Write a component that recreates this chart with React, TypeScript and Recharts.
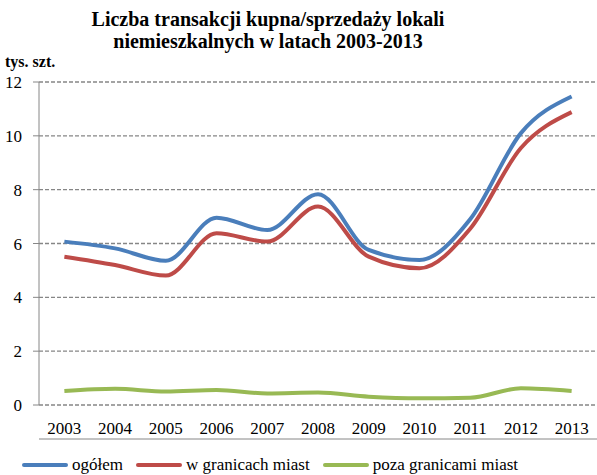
import { LineChart, Line, XAxis, YAxis, CartesianGrid, Legend } from "recharts";

const years = [2003, 2004, 2005, 2006, 2007, 2008, 2009, 2010, 2011, 2012, 2013];
const ogolem = [6.07, 5.82, 5.36, 6.96, 6.5, 7.83, 5.76, 5.39, 6.9, 10.1, 11.46];
const wGranicach = [5.51, 5.2, 4.81, 6.38, 6.07, 7.37, 5.51, 5.08, 6.55, 9.55, 10.88];
const pozaGranicami = [0.52, 0.6, 0.5, 0.56, 0.43, 0.46, 0.31, 0.25, 0.27, 0.62, 0.52];
const yTicks = [0, 2, 4, 6, 8, 10, 12];
const edgeTicks = [...years.map((y) => y - 0.5), 2013.5];

const series = [
  { key: "ogolem", name: "ogółem", color: "#4a7ebb" },
  { key: "wGranicach", name: "w granicach miast", color: "#be4b48" },
  { key: "pozaGranicami", name: "poza granicami miast", color: "#98b954" },
];

const data = years.map((year, i) => ({
  year,
  ogolem: ogolem[i],
  wGranicach: wGranicach[i],
  pozaGranicami: pozaGranicami[i],
}));

const font = '"Times New Roman", "Liberation Serif", Tinos, serif';
const axisGray = "#868686";

const LegendContent = () => (
  <div style={{ display: "flex", paddingLeft: 22, fontFamily: font, fontSize: 17, lineHeight: "20px", color: "#000" }}>
    {series.map((s) => (
      <div key={s.key} style={{ display: "flex", alignItems: "center", marginRight: 13 }}>
        <div style={{ width: 46, height: 4, borderRadius: 2, background: s.color, marginRight: 4 }} />
        <span style={{ fontFamily: font }}>{s.name}</span>
      </div>
    ))}
  </div>
);

const App = () => {
  return (
    <div style={{ position: "absolute", left: 0, top: 0, width: 597, height: 475, background: "#fff", fontFamily: font }}>
      <div
        style={{
          position: "absolute",
          top: 8,
          left: 0,
          width: 536,
          textAlign: "center",
          fontWeight: "bold",
          fontSize: 20,
          lineHeight: "22px",
        }}
      >
        Liczba transakcji kupna/sprzedaży lokali
        <br />
        niemieszkalnych w latach 2003-2013
      </div>
      <div
        style={{
          position: "absolute",
          top: 54,
          left: 5,
          fontWeight: "bold",
          fontSize: 16,
          lineHeight: "16px",
        }}
      >
        tys. szt.
      </div>
      <LineChart
        width={597}
        height={475}
        data={data}
        margin={{ top: 82, right: 0, bottom: 15, left: 0 }}
        style={{ fontFamily: font }}
      >
        <CartesianGrid vertical={false} stroke={axisGray} strokeDasharray="4 2" strokeWidth={1.3} />
        <XAxis
          xAxisId="edges"
          dataKey="year"
          type="number"
          domain={[2002.5, 2013.5]}
          ticks={edgeTicks}
          tick={false}
          height={1}
          stroke={axisGray}
          tickSize={6}
        />
        <XAxis
          dataKey="year"
          type="number"
          domain={[2002.5, 2013.5]}
          ticks={years}
          axisLine={false}
          tickLine={false}
          tickSize={0}
          tickMargin={17}
          height={34}
          tick={{ fill: "#000", fontSize: 17, fontFamily: font }}
          interval={0}
        />
        <YAxis
          domain={[0, 12]}
          ticks={yTicks}
          width={39}
          stroke={axisGray}
          tickSize={6}
          tickMargin={11}
          tick={{ fill: "#000", fontSize: 17, fontFamily: font }}
        />
        <Legend content={<LegendContent />} wrapperStyle={{ top: 455, left: 0, bottom: "auto" }} />
        {series.map((s) => (
          <Line
            key={s.key}
            type="monotone"
            dataKey={s.key}
            name={s.name}
            stroke={s.color}
            strokeWidth={4}
            dot={false}
            isAnimationActive={false}
          />
        ))}
      </LineChart>
    </div>
  );
};

export default App;
